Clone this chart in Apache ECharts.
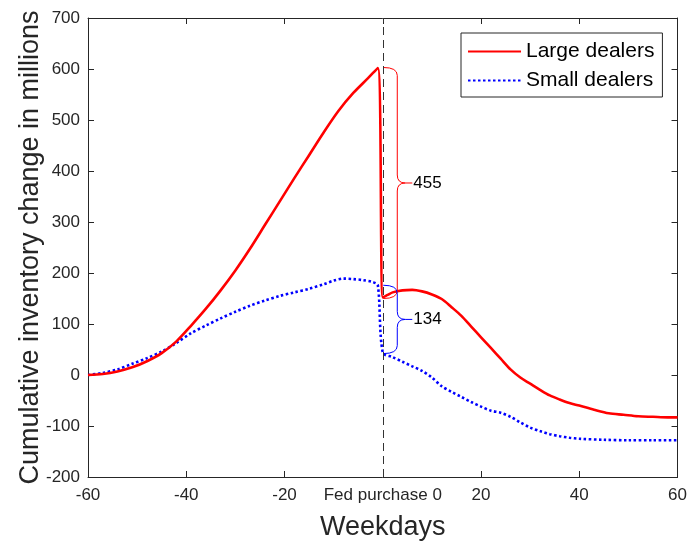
<!DOCTYPE html>
<html>
<head>
<meta charset="utf-8">
<script src="https://cdn.jsdelivr.net/npm/echarts@6/dist/echarts.min.js"></script>
<style>
html,body{margin:0;padding:0;background:#fff;}
#main{width:690px;height:546px;}
</style>
</head>
<body>
<div id="main"></div>
<script>
// ---- data ----
const largeX = [-60,-57,-54,-51,-48,-45,-42,-39,-36,-33,-30,-27,-24,-21,-18,-15,-12,-9,-6,-3,-1,0,1,2,4,6,8,10,12,14,16,18,20,22,24,26,28,30,32,34,36,38,40,43,46,49,52,55,58,60];
const largeY = [0,2,7,15,27,43,66,97,130,166,205,248,294,340,386,431,476,518,553,582,602,152,157,162,166,167,164,158,149,133,116,95,74,53,32,11,-5,-17,-29,-40,-48,-55,-60,-68,-75,-78,-81,-82,-83,-83];
const smallX = [-60,-57,-54,-51,-48,-45,-42,-39,-36,-33,-30,-27,-24,-21,-18,-15,-12,-10,-8,-6,-4,-2,-1,0,2,4,6,8,10,12,14,16,18,20,22,24,26,28,30,32,34,36,38,40,45,50,55,60];
const smallY = [0,4,11,22,33,46,63,82,97,111,124,136,146,155,162,169,178,185,189,188,186,182,176,44,35,26,17,8,-5,-22,-33,-43,-53,-62,-70,-74,-82,-93,-103,-110,-116,-120,-123,-125,-127,-128,-128,-128];
const xTicks = [-60,-40,-20,0,20,40,60];
const xTickLabels = ['-60','-40','-20','Fed purchase 0','20','40','60'];
const braceTop = [603, 176];
const braceBottom = [150, 42];
const braceLabels = ['455', '134'];
const seriesNames = ['Large dealers', 'Small dealers'];

const pair = (xs, ys) => xs.map((x, i) => [x, ys[i]]);
const FONT = 'Liberation Sans, Arial, Helvetica, sans-serif';
const AX = '#262626';

const chart = echarts.init(document.getElementById('main'), null, {renderer: 'canvas'});

const axisCommon = {
  axisLine: {show: true, onZero: false, lineStyle: {color: AX, width: 1}},
  axisTick: {show: true, inside: true, length: 6, lineStyle: {color: AX}},
  splitLine: {show: false}
};

chart.setOption({
  animation: false,
  backgroundColor: '#fff',
  grid: {left: 88, right: 11, top: 18, bottom: 64, containLabel: false},
  legend: {
    data: seriesNames,
    orient: 'vertical',
    left: 461, top: 33,
    padding: [8, 8, 6, 6],
    itemGap: 8,
    itemWidth: 53, itemHeight: 14,
    itemStyle: {opacity: 0},
    backgroundColor: '#fff',
    borderColor: '#262626', borderWidth: 1, borderRadius: 0,
    textStyle: {fontFamily: FONT, fontSize: 21, color: '#000'}
  },
  xAxis: [
    Object.assign({
      type: 'value', min: -60, max: 60, interval: 20, position: 'bottom',
      name: 'Weekdays', nameLocation: 'middle', nameGap: 37, nameMoveOverlap: false,
      nameTextStyle: {fontFamily: FONT, fontSize: 27, color: AX},
      axisLabel: {
        fontFamily: FONT, fontSize: 17, color: AX, margin: 10,
        formatter: v => { const i = xTicks.indexOf(v); return i >= 0 ? xTickLabels[i] : String(v); }
      }
    }, axisCommon),
    Object.assign({
      type: 'value', min: -60, max: 60, interval: 20, position: 'top',
      axisLabel: {show: false}
    }, axisCommon)
  ],
  yAxis: [
    Object.assign({
      type: 'value', min: -200, max: 700, interval: 100, position: 'left',
      name: 'Cumulative inventory change in millions', nameLocation: 'middle', nameGap: 44, nameMoveOverlap: false,
      nameTextStyle: {fontFamily: FONT, fontSize: 27, color: AX},
      axisLabel: {fontFamily: FONT, fontSize: 17, color: AX, margin: 8}
    }, axisCommon),
    Object.assign({
      type: 'value', min: -200, max: 700, interval: 100, position: 'right',
      axisLabel: {show: false}
    }, axisCommon)
  ],
  series: [
    {
      name: seriesNames[0], type: 'line', data: pair(largeX, largeY),
      symbol: 'none', smooth: 0.3, z: 3,
      lineStyle: {color: '#ff0000', width: 2.6},
      itemStyle: {color: '#ff0000'},
      markLine: {
        silent: true, symbol: 'none', label: {show: false},
        lineStyle: {color: '#333', width: 1, type: [8, 5]},
        data: [{xAxis: 0}]
      }
    },
    {
      name: seriesNames[1], type: 'line', data: pair(smallX, smallY),
      symbol: 'none', smooth: 0.3, z: 2,
      lineStyle: {color: '#0000ff', width: 2.6, type: [2.5, 2.5], cap: 'butt'},
      itemStyle: {color: '#0000ff'}
    },
    {
      name: 'braces', type: 'custom', z: 4,
      data: braceTop.map((t, i) => [0, t, braceBottom[i], i]),
      encode: {x: 0, y: [1, 2]},
      renderItem: function (params, api) {
        const i = api.value(3);
        const pT = api.coord([api.value(0), api.value(1)]);
        const pB = api.coord([api.value(0), api.value(2)]);
        const x0 = pT[0] + 0.5, yT = pT[1], yB = pB[1];
        const xv = x0 + 14, xt = x0 + 29, ym = (yT + yB) / 2, r = 8;
        const d = `M${x0} ${yT} Q${xv} ${yT} ${xv} ${yT + r} L${xv} ${ym - r} Q${xv} ${ym} ${xv + r} ${ym} L${xt} ${ym} ` +
                  `M${xv + r} ${ym} Q${xv} ${ym} ${xv} ${ym + r} L${xv} ${yB - r} Q${xv} ${yB} ${x0} ${yB}`;
        const col = i === 0 ? '#ff0000' : '#0000ff';
        return {
          type: 'group',
          children: [
            {type: 'path', shape: {pathData: d}, style: {stroke: col, fill: 'none', lineWidth: 1}},
            {type: 'text', style: {text: braceLabels[i], x: xt + 1, y: ym, fontFamily: FONT, fontSize: 17, fill: '#000', verticalAlign: 'middle', align: 'left'}}
          ]
        };
      }
    }
  ]
});
</script>
</body>
</html>
